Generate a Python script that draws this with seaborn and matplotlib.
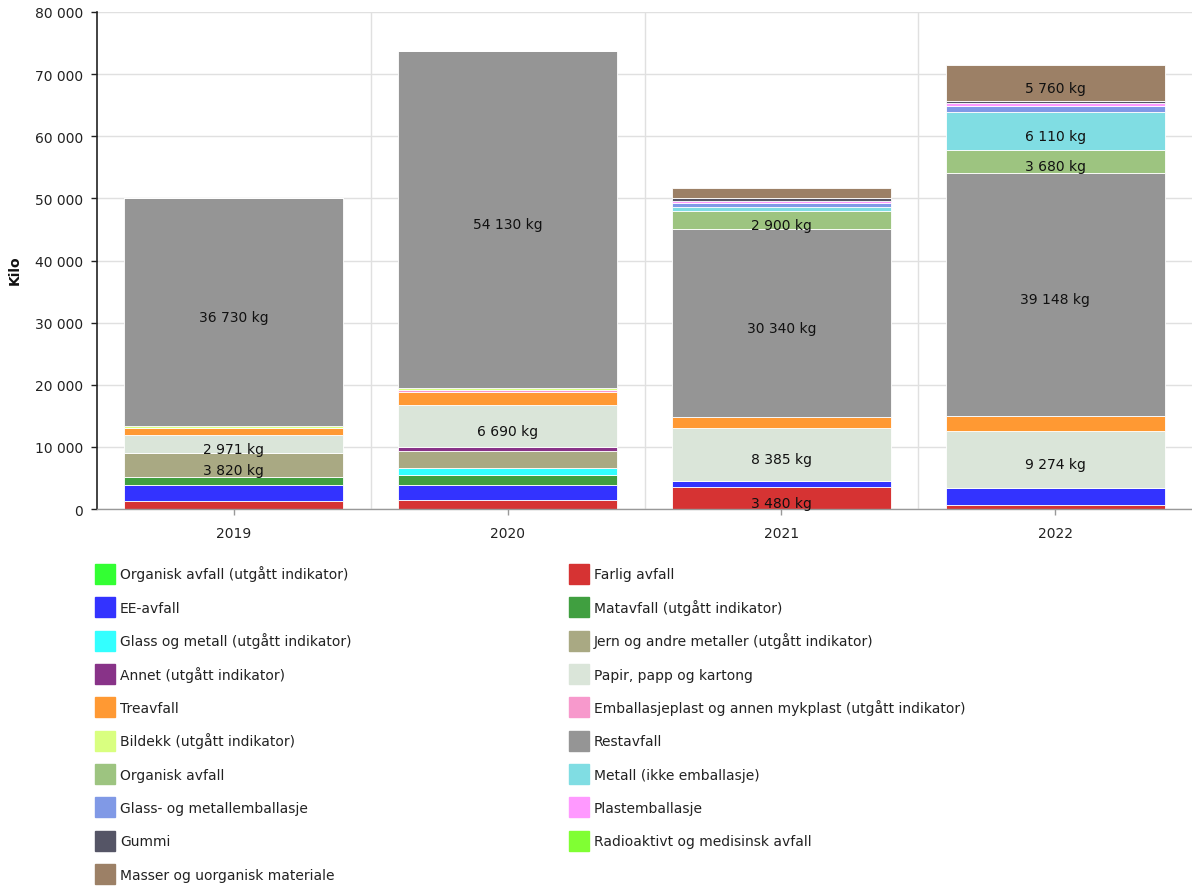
import numpy as np
import pandas as pd
import matplotlib
matplotlib.use("Agg")
import matplotlib.pyplot as plt
import seaborn as sns
from matplotlib.patches import Patch

years = ["2019", "2020", "2021", "2022"]

series_names = [
    "Organisk avfall (utgått indikator)",
    "Farlig avfall",
    "EE-avfall",
    "Matavfall (utgått indikator)",
    "Glass og metall (utgått indikator)",
    "Jern og andre metaller (utgått indikator)",
    "Annet (utgått indikator)",
    "Papir, papp og kartong",
    "Treavfall",
    "Emballasjeplast og annen mykplast (utgått indikator)",
    "Bildekk (utgått indikator)",
    "Restavfall",
    "Organisk avfall",
    "Metall (ikke emballasje)",
    "Glass- og metallemballasje",
    "Plastemballasje",
    "Gummi",
    "Radioaktivt og medisinsk avfall",
    "Masser og uorganisk materiale",
]

organisk_utgatt = [0, 0, 0, 0]
farlig = [1300, 1500, 3480, 640]
ee = [2500, 2400, 1100, 2700]
matavfall = [1400, 1600, 0, 0]
glass_metall = [0, 1180, 0, 0]
jern = [3820, 2680, 0, 0]
annet = [0, 700, 0, 0]
papir = [2971, 6690, 8385, 9274]
treavfall = [1000, 2150, 1770, 2350]
emballasjeplast = [0, 270, 0, 0]
bildekk = [300, 370, 0, 0]
restavfall = [36730, 54130, 30340, 39148]
organisk = [0, 0, 2900, 3680]
metall = [0, 0, 700, 6110]
glass_emb = [0, 0, 640, 900]
plastemb = [0, 0, 320, 500]
gummi = [0, 0, 370, 400]
radioaktivt = [0, 0, 0, 0]
masser = [0, 0, 1600, 5760]

values = [organisk_utgatt, farlig, ee, matavfall, glass_metall, jern, annet,
          papir, treavfall, emballasjeplast, bildekk, restavfall, organisk,
          metall, glass_emb, plastemb, gummi, radioaktivt, masser]

colors = ["#33ff33", "#d63333", "#3333ff", "#409f40", "#33ffff", "#a9a983",
          "#883388", "#dae5d9", "#ff9933", "#f799cc", "#d9ff80", "#959595",
          "#9dc480", "#80dde3", "#8099e6", "#ff99ff", "#555566", "#80ff33",
          "#9c8066"]

label_threshold = 2850

sns.set_theme(style="white")
plt.rcParams["font.family"] = ["DejaVu Sans"]

W, H = 1192, 887
fig = plt.figure(figsize=(W / 100, H / 100), dpi=100)
left, right, top, bottom = 97, 1192, 13, 510
ax = fig.add_axes([left / W, 1 - bottom / H, (right - left) / W, (bottom - top) / H])

fs = 10
base = np.zeros(len(years))
for name, vals, col in zip(series_names, values, colors):
    vals = np.array(vals, dtype=float)
    df = pd.DataFrame({"year": years, "value": vals})
    sns.barplot(data=df, x="year", y="value", order=years, color=col,
                bottom=base, width=0.8, errorbar=None, ax=ax,
                edgecolor="white", linewidth=0.6, saturation=1)
    for i, v in enumerate(vals):
        if v >= label_threshold:
            txt = f"{int(v):,}".replace(",", " ") + " kg"
            ax.annotate(txt, (i, base[i] + v / 2), xytext=(0, -3.5),
                        textcoords="offset points", ha="center", va="center",
                        fontsize=fs, color="#111111")
    base = base + vals

ax.set_xlim(-0.5, 3.5)
ax.set_ylim(0, 80000)
ax.set_yticks(np.arange(0, 80001, 10000))
ax.set_yticklabels([f"{v:,}".replace(",", " ") for v in range(0, 80001, 10000)],
                   fontsize=fs, color="#222222")
ax.set_xticks(range(len(years)))
ax.set_xticklabels(years, fontsize=fs, color="#222222")
ax.set_xticks([0.5, 1.5, 2.5], minor=True)
ax.set_xlabel("")
ax.set_ylabel("Kilo", fontsize=10, fontweight="bold", color="#111111")
ax.yaxis.set_label_coords(-0.069, 0.483)

ax.grid(axis="y", color="#e0e0e0", linewidth=1)
ax.grid(axis="x", which="minor", color="#e0e0e0", linewidth=1)
ax.set_axisbelow(True)
for s in ["top", "right"]:
    ax.spines[s].set_visible(False)
ax.spines["left"].set_color("#222222")
ax.spines["left"].set_linewidth(1.2)
ax.spines["bottom"].set_color("#999999")
ax.spines["bottom"].set_linewidth(1)
ax.tick_params(axis="y", which="major", length=4, width=1, color="#222222", pad=6, left=True)
ax.tick_params(axis="x", which="major", length=4, width=1, color="#999999", pad=8, bottom=True)
ax.tick_params(axis="x", which="minor", length=0)

# Legend: two columns, filled row-wise
handles = [Patch(facecolor=c, edgecolor=c, label=n) for n, c in zip(series_names, colors)]
col1 = handles[0::2]
col2 = handles[1::2]
common = dict(frameon=False, fontsize=fs, handlelength=1.44, handleheight=1.84,
              handletextpad=0.36, labelspacing=0.96, borderpad=0, borderaxespad=0,
              loc="upper left")
leg1 = fig.legend(handles=col1, bbox_to_anchor=(95 / W, 1 - 565 / H), **common)
leg2 = fig.legend(handles=col2, bbox_to_anchor=(569 / W, 1 - 565 / H), **common)
for leg in (leg1, leg2):
    for t in leg.get_texts():
        t.set_color("#222222")

fig.savefig("out.png", dpi=100)
